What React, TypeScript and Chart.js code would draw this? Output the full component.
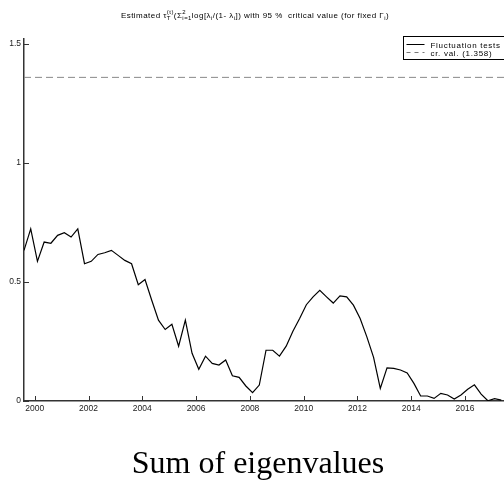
import React, { useEffect, useRef } from "react";
import { Chart, registerables } from "chart.js";

Chart.register(...registerables);

// Quarterly observations, first one at START_YEAR
const START_YEAR = 1999.6;
const STEP_YEARS = 0.25;
const fluctuationValues = [
  0.632, 0.722, 0.586, 0.667, 0.662, 0.695, 0.706, 0.688, 0.722, 0.576,
  0.586, 0.615, 0.622, 0.632, 0.611, 0.590, 0.576, 0.488, 0.510, 0.423,
  0.339, 0.300, 0.322, 0.230, 0.339, 0.200, 0.133, 0.188, 0.158, 0.151,
  0.172, 0.106, 0.099, 0.063, 0.035, 0.067, 0.213, 0.213, 0.188, 0.230,
  0.293, 0.346, 0.404, 0.437, 0.464, 0.437, 0.411, 0.441, 0.437, 0.402,
  0.346, 0.269, 0.183, 0.053, 0.139, 0.137, 0.130, 0.118, 0.074, 0.021,
  0.021, 0.011, 0.032, 0.025, 0.008, 0.025, 0.049, 0.068, 0.029, 0.001,
  0.010, 0.004,
];
const CRITICAL_VALUE = 1.358;
const X_TICKS = [2000, 2002, 2004, 2006, 2008, 2010, 2012, 2014, 2016];
const Y_TICKS = [0, 0.5, 1, 1.5];
const X_MIN = 1999.6;
const X_MAX = 2017.45;
const Y_MIN = 0;
const Y_MAX = 1.519;
const SERIES_LABELS = ["Fluctuation tests", "cr. val. (1.358)"];
const CAPTION = "Sum of eigenvalues";

const AXIS_COLOR = "#333333";
const SANS = "'Liberation Sans', Arial, sans-serif";

type Seg = { t: string; k: "n" | "sub" | "sup" | "stack"; sup?: string; sub?: string };
const TITLE_SEGS: Seg[] = [
  { t: "Estimated τ", k: "n" },
  { t: "", k: "stack", sup: "(t)", sub: "T" },
  { t: "(Σ", k: "n" },
  { t: "", k: "stack", sup: "2", sub: "i=1" },
  { t: "log[λ", k: "n" },
  { t: "i", k: "sub" },
  { t: "/(1- λ", k: "n" },
  { t: "i", k: "sub" },
  { t: "]) with 95 %  critical value (for fixed Γ", k: "n" },
  { t: "i", k: "sub" },
  { t: ")", k: "n" },
];

const overlayPlugin = {
  id: "overlay",
  afterDraw(chart: any) {
    const { ctx, chartArea, scales } = chart;
    const { left, top, right, bottom } = chartArea;
    ctx.save();
    // inward tick marks
    ctx.strokeStyle = AXIS_COLOR;
    ctx.lineWidth = 1;
    ctx.beginPath();
    scales.x.ticks.forEach((t: any) => {
      const px = Math.round(scales.x.getPixelForValue(t.value)) + 0.5;
      ctx.moveTo(px, bottom);
      ctx.lineTo(px, bottom - 5);
    });
    scales.y.ticks.forEach((t: any) => {
      const py = Math.round(scales.y.getPixelForValue(t.value)) + 0.5;
      ctx.moveTo(left, py);
      ctx.lineTo(left + 5, py);
    });
    ctx.stroke();

    // legend box
    const lx = right - 100.5;
    const ly = top - 2.5;
    ctx.fillStyle = "#ffffff";
    ctx.fillRect(lx, ly, 110, 23);
    ctx.strokeStyle = "#000000";
    ctx.lineWidth = 1;
    ctx.strokeRect(lx, ly, 110, 23);
    ctx.beginPath();
    ctx.moveTo(lx + 3, ly + 8);
    ctx.lineTo(lx + 21, ly + 8);
    ctx.stroke();
    ctx.save();
    ctx.strokeStyle = "#777777";
    ctx.setLineDash([4, 4]);
    ctx.beginPath();
    ctx.moveTo(lx + 3, ly + 16);
    ctx.lineTo(lx + 21, ly + 16);
    ctx.stroke();
    ctx.restore();
    ctx.fillStyle = "#000000";
    ctx.font = `8px ${SANS}`;
    (ctx as any).letterSpacing = "0.7px";
    ctx.textAlign = "left";
    ctx.textBaseline = "alphabetic";
    ctx.fillText(SERIES_LABELS[0], lx + 27, ly + 11);
    ctx.fillText(SERIES_LABELS[1], lx + 27, ly + 19);

    // title with sub/superscripts
    const fMain = `8px ${SANS}`;
    const fSmall = `6px ${SANS}`;
    (ctx as any).letterSpacing = "0.45px";
    const widthOf = (s: Seg) => {
      if (s.k === "n") { ctx.font = fMain; return ctx.measureText(s.t).width; }
      ctx.font = fSmall;
      if (s.k === "stack") return Math.max(ctx.measureText(s.sup!).width, ctx.measureText(s.sub!).width);
      return ctx.measureText(s.t).width;
    };
    const total = TITLE_SEGS.reduce((a, s) => a + widthOf(s), 0);
    let x = 255 - total / 2;
    const base = 18;
    TITLE_SEGS.forEach((s) => {
      const w = widthOf(s);
      if (s.k === "n") { ctx.font = fMain; ctx.fillText(s.t, x, base); }
      else if (s.k === "sub") { ctx.font = fSmall; ctx.fillText(s.t, x, base + 2); }
      else if (s.k === "sup") { ctx.font = fSmall; ctx.fillText(s.t, x, base - 4); }
      else { ctx.font = fSmall; ctx.fillText(s.sup!, x, base - 4.5); ctx.fillText(s.sub!, x, base + 2); }
      x += w;
    });

    // caption
    (ctx as any).letterSpacing = "0px";
    ctx.font = `32px 'Liberation Serif', 'Times New Roman', serif`;
    ctx.textAlign = "center";
    ctx.fillText(CAPTION, 258, 473);
    ctx.restore();
  },
};

export default function App() {
  const ref = useRef<HTMLCanvasElement | null>(null);
  useEffect(() => {
    if (!ref.current) return;
    const mainData = fluctuationValues.map((v, i) => ({ x: START_YEAR + i * STEP_YEARS, y: v }));
    const critData = [
      { x: X_MIN, y: CRITICAL_VALUE },
      { x: X_MAX, y: CRITICAL_VALUE },
    ];
    const chart = new Chart(ref.current, {
      type: "line",
      data: {
        datasets: [
          {
            label: SERIES_LABELS[0],
            data: mainData,
            borderColor: "#000000",
            borderWidth: 1.2,
            pointRadius: 0,
            tension: 0,
          },
          {
            label: SERIES_LABELS[1],
            data: critData,
            borderColor: "#888888",
            borderWidth: 1,
            borderDash: [7, 4],
            pointRadius: 0,
          },
        ],
      },
      options: {
        animation: false,
        responsive: false,
        devicePixelRatio: 1,
        layout: { padding: { left: 0, top: 39, right: 0, bottom: 0 } },
        plugins: {
          legend: { display: false },
          title: { display: false },
          tooltip: { enabled: false },
        },
        scales: {
          x: {
            type: "linear",
            min: X_MIN,
            max: X_MAX,
            afterBuildTicks: (s: any) => { s.ticks = X_TICKS.map((v) => ({ value: v })); },
            afterFit: (s: any) => { s.height = 80; s.paddingLeft = 0; s.paddingRight = 0; },
            grid: { display: false, drawTicks: false },
            border: { display: true, color: AXIS_COLOR, width: 1.5 },
            ticks: {
              color: "#222222",
              font: { family: SANS, size: 8.5 },
              padding: 3,
              maxRotation: 0,
              autoSkip: false,
              callback: (v: any) => String(v),
            },
          },
          y: {
            type: "linear",
            min: Y_MIN,
            max: Y_MAX,
            afterBuildTicks: (s: any) => { s.ticks = Y_TICKS.map((v) => ({ value: v })); },
            afterFit: (s: any) => { s.width = 24; },
            grid: { display: false, drawTicks: false },
            border: { display: true, color: AXIS_COLOR, width: 1.5 },
            ticks: {
              color: "#222222",
              font: { family: SANS, size: 8.5 },
              padding: 3,
              autoSkip: false,
              callback: (v: any) => String(v),
            },
          },
        },
      },
      plugins: [overlayPlugin],
    } as any);
    return () => chart.destroy();
  }, []);
  return (
    <div style={{ position: "fixed", left: 0, top: 0, width: 504, height: 481, background: "#fff" }}>
      <canvas ref={ref} width={504} height={481} style={{ display: "block" }} />
    </div>
  );
}
